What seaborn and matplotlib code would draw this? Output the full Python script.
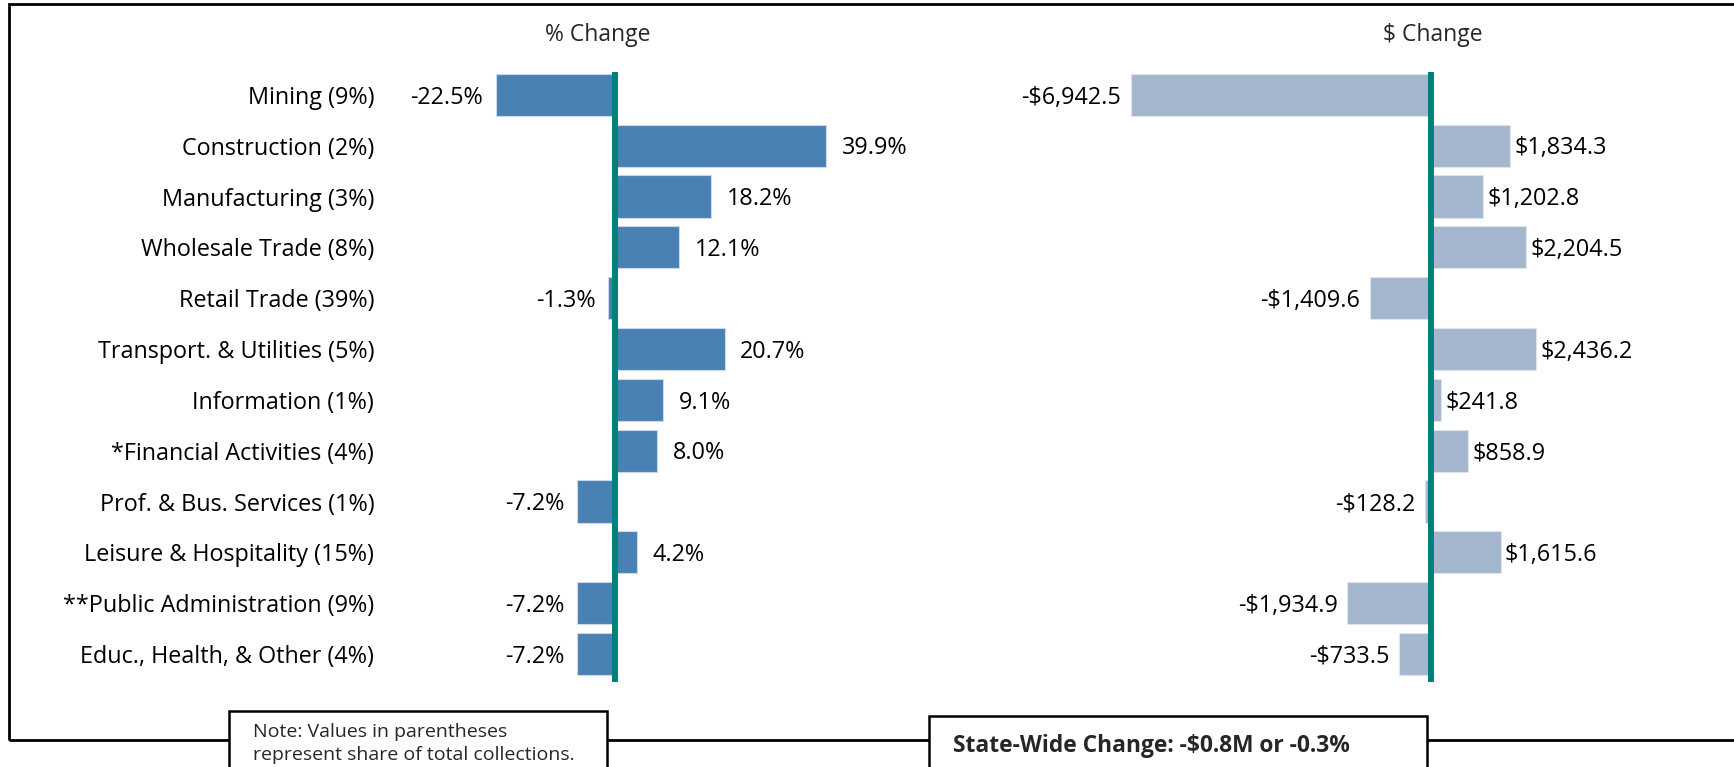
import matplotlib
matplotlib.use("Agg")
import matplotlib.pyplot as plt
import seaborn as sns
import pandas as pd
from matplotlib.patches import Rectangle

categories = ["Mining (9%)", "Construction (2%)", "Manufacturing (3%)", "Wholesale Trade (8%)",
              "Retail Trade (39%)", "Transport. & Utilities (5%)", "Information (1%)",
              "*Financial Activities (4%)", "Prof. & Bus. Services (1%)",
              "Leisure & Hospitality (15%)", "**Public Administration (9%)",
              "Educ., Health, & Other (4%)"]
pct_change = [-22.5, 39.9, 18.2, 12.1, -1.3, 20.7, 9.1, 8.0, -7.2, 4.2, -7.2, -7.2]
dollar_change = [-6942.5, 1834.3, 1202.8, 2204.5, -1409.6, 2436.2, 241.8, 858.9,
                 -128.2, 1615.6, -1934.9, -733.5]

df = pd.DataFrame({"cat": categories, "pct": pct_change, "usd": dollar_change})

sns.set_theme(style="white")
plt.rcParams["font.family"] = ["Open Sans", "DejaVu Sans"]

W, H = 1734, 767
fig = plt.figure(figsize=(W / 100, H / 100), dpi=100)

def px_axes(x0, y0, x1, y1):
    return fig.add_axes([x0 / W, 1 - y1 / H, (x1 - x0) / W, (y1 - y0) / H])

ax_top, ax_bot = 72, 682
ax1 = px_axes(420, ax_top, 880, ax_bot)
ax2 = px_axes(1000, ax_top, 1700, ax_bot)

blue = "#4A81B5"
grey_blue = "#A5B6CF"
teal = "#00807A"
FS = 16.8

sns.barplot(data=df, y="cat", x="pct", color=blue, orient="h", width=0.83,
            ax=ax1, order=categories, saturation=1, edgecolor="#C9D9EA", linewidth=0.8)
sns.barplot(data=df, y="cat", x="usd", color=grey_blue, orient="h", width=0.83,
            ax=ax2, order=categories, saturation=1, edgecolor="#DCE4EF", linewidth=0.8)

s1 = 5.3
ax1.set_xlim((420 - 615) / s1, (880 - 615) / s1)
s2 = 0.0432
ax2.set_xlim((1000 - 1431) / s2, (1700 - 1431) / s2)

for ax in (ax1, ax2):
    ax.set_ylim(11.55, -0.45)
    for sp in ax.spines.values():
        sp.set_visible(False)
    ax.set_xticks([])
    ax.set_xlabel("")
    ax.set_ylabel("")
    ax.axvline(0, color=teal, lw=4.3, zorder=5)
    ax.patch.set_alpha(0)

ax1.tick_params(axis="y", length=0, pad=33, labelsize=FS)
for t in ax1.get_yticklabels():
    t.set_color("black")
ax2.set_yticks([])

for i, v in enumerate(pct_change):
    off = 11 if v >= 0 else -9
    ax1.annotate(f"{v:.1f}%", xy=(v, i), xytext=(off, -2), textcoords="offset points",
                 ha="left" if v >= 0 else "right", va="center", fontsize=FS,
                 color="black", annotation_clip=False)

for i, v in enumerate(dollar_change):
    off = 3 if v >= 0 else -7
    txt = f"${v:,.1f}" if v >= 0 else f"-${-v:,.1f}"
    ax2.annotate(txt, xy=(v, i), xytext=(off, -2), textcoords="offset points",
                 ha="left" if v >= 0 else "right", va="center", fontsize=FS,
                 color="black", annotation_clip=False)

fig.text(598 / W, 1 - 35 / H, "% Change", ha="center", va="center", fontsize=16.5)
fig.text(1433 / W, 1 - 35 / H, "$ Change", ha="center", va="center", fontsize=16.5)

fig.add_artist(Rectangle((9 / W, 1 - 740 / H), (W + 20) / W, (740 - 4) / H,
                         transform=fig.transFigure, fill=False, edgecolor="black",
                         lw=2.0, clip_on=False, zorder=1))

fig.add_artist(Rectangle((229 / W, 1 - 790 / H), (607 - 229) / W, (790 - 711) / H,
                         transform=fig.transFigure, facecolor="white", edgecolor="black",
                         lw=1.8, zorder=10))
fig.text(253 / W, 1 - 732 / H, "Note: Values in parentheses", ha="left", va="center",
         fontsize=14, zorder=11)
fig.text(253 / W, 1 - 755 / H, "represent share of total collections.", ha="left",
         va="center", fontsize=14, zorder=11)

fig.add_artist(Rectangle((929 / W, 1 - 790 / H), (1427 - 929) / W, (790 - 716) / H,
                         transform=fig.transFigure, facecolor="white", edgecolor="black",
                         lw=1.8, zorder=10))
fig.text(953 / W, 1 - 746 / H, "State-Wide Change: -$0.8M or -0.3%", ha="left",
         va="center", fontsize=16.4, fontweight="bold", zorder=11)

fig.savefig("out.png", dpi=100, facecolor="white")
